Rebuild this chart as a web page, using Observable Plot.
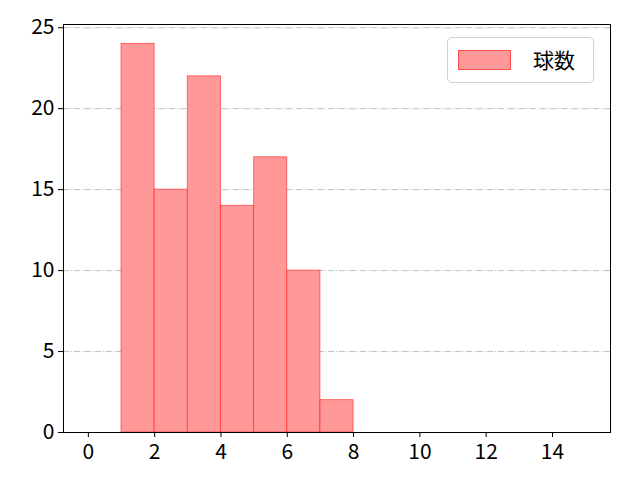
<!DOCTYPE html>
<html><head><meta charset="utf-8">
<script src="https://cdn.jsdelivr.net/npm/d3@7"></script>
<script src="https://cdn.jsdelivr.net/npm/@observablehq/plot@0.6"></script>
<style>
body{margin:0;background:#fff;font-family:"Noto Sans CJK JP","DejaVu Sans",sans-serif;}
#wrap{position:relative;width:640px;height:480px;}
#legend{position:absolute;left:447px;top:37px;width:147px;height:46px;border:1px solid #d0d0d0;border-radius:5px;background:rgba(255,255,255,0.8);box-sizing:border-box;}
#legend .sw{position:absolute;left:10px;top:12px;width:53px;height:20px;background:#ff9999;border:1px solid rgba(255,0,0,0.5);box-sizing:border-box;}
#legend .lb{position:absolute;left:85px;top:7px;font-size:21px;line-height:28px;color:#000;}
</style></head>
<body><div id="wrap"><div id="legend"><div class="sw"></div><div class="lb">球数</div></div></div>
<script>
const binStarts = [0,1,2,3,4,5,6,7,8,9,10,11,12,13,14];
const counts = [0,24,15,22,14,17,10,2,0,0,0,0,0,0,0];
const xTicks = [0,2,4,6,8,10,12,14];
const yTicks = [0,5,10,15,20,25];
const seriesName = "球数";

const data = binStarts.map((s,i)=>({x1:s, x2:s+1, y:counts[i]}));

const chart = Plot.plot({
  width:640, height:480,
  marginLeft:63, marginRight:30, marginTop:24, marginBottom:48,
  style:{fontFamily:'"Noto Sans CJK JP","DejaVu Sans",sans-serif', fontSize:"21px", color:"#000", background:"#fff"},
  x:{type:"linear", domain:[-0.75,15.75], label:null},
  y:{type:"linear", domain:[0,25.2], label:null},
  marks:[
    Plot.ruleY(yTicks.filter(d=>d>0), {stroke:"#b0b0b0", strokeWidth:0.8, strokeDasharray:"6.4,1.6,1,1.6"}),
    Plot.rectY(data, {x1:"x1", x2:"x2", y:"y", fill:"#ff9999", stroke:"red", strokeOpacity:0.5, strokeWidth:1}),
    Plot.frame({stroke:"#000", strokeWidth:1}),
    Plot.axisX({ticks:xTicks, tickSize:5, tickPadding:7, fontSize:21, tickFormat:d=>String(d), label:null}),
    Plot.axisY({ticks:yTicks, tickSize:5, tickPadding:4, fontSize:21, tickFormat:d=>String(d), label:null})
  ]
});
document.getElementById("wrap").prepend(chart);
chart.style.position="absolute"; chart.style.left="0"; chart.style.top="0";
document.getElementById("legend").style.zIndex=2;
</script></body></html>
